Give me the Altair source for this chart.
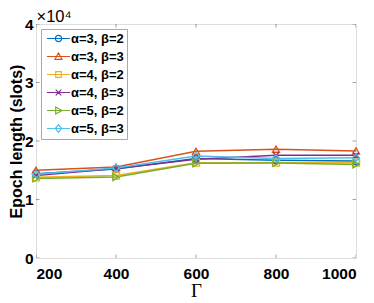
import altair as alt
import pandas as pd

gamma = [200, 400, 600, 800, 1000]
series = ["α=3, β=2", "α=3, β=3", "α=4, β=2", "α=4, β=3", "α=5, β=2", "α=5, β=3"]
values = [
    [14400, 15200, 17000, 16700, 16600],  # a3 b2
    [15000, 15550, 18250, 18600, 18300],  # a3 b3
    [13800, 14100, 16300, 16300, 16300],  # a4 b2
    [14100, 15300, 16900, 17550, 17550],  # a4 b3
    [13600, 13850, 16200, 16250, 16000],  # a5 b2
    [14300, 15400, 17450, 17000, 17150],  # a5 b3
]
colors = ["#0072BD", "#D95319", "#EDB120", "#7E2F8E", "#77AC30", "#4DBEEE"]
shapes = ["circle", "triangle-up", "square", "M-0.8,-0.8L0.8,0.8M-0.8,0.8L0.8,-0.8",
          "triangle-right", "diamond"]
# legend glyphs: a line segment with the marker on it
seg = "M-3.3,0L3.3,0"
legend_shapes = [
    seg + "M0.9,0A0.9,0.9 0 1 1 -0.9,0A0.9,0.9 0 1 1 0.9,0",
    seg + "M-1,0.8L0,-1L1,0.8Z",
    seg + "M-0.8,-0.8L0.8,-0.8L0.8,0.8L-0.8,0.8Z",
    seg + "M-0.8,-0.8L0.8,0.8M-0.8,0.8L0.8,-0.8",
    seg + "M-0.8,-1L1,0L-0.8,1Z",
    seg + "M0,-1.1L0.9,0L0,1.1L-0.9,0Z",
]
x_ticks = [200, 400, 600, 800, 1000]
y_ticks = [0, 10000, 20000, 30000, 40000]
exponent_label = "×10⁴"

rows = []
for s, vals in zip(series, values):
    for g, v in zip(gamma, vals):
        rows.append({"gamma": g, "series": s, "value": v})
df = pd.DataFrame(rows)

xs = alt.Scale(domain=[200, 1000], nice=False)
ys = alt.Scale(domain=[0, 40000], nice=False)
leg = alt.Legend(title=None, orient="none", legendX=5, legendY=5,
                 fillColor="white", strokeColor="#a8a8a8", padding=3,
                 labelFont="Liberation Sans", labelFontWeight="bold",
                 labelFontSize=13, labelColor="black", rowPadding=4,
                 symbolSize=49, symbolStrokeWidth=1.2, symbolFillColor="transparent",
                 symbolOffset=8, labelOffset=6, labelLimit=200)
col = alt.Color("series:N", scale=alt.Scale(domain=series, range=colors), legend=leg)

xax = alt.Axis(values=x_ticks, format="d", title="Γ", titleFont="Liberation Serif",
               titleFontSize=19, titleFontWeight="normal", titlePadding=0,
               labelFont="Liberation Sans", labelFontWeight="bold", labelFontSize=15.5,
               labelColor="black", ticks=False, domain=False, grid=False, labelPadding=8,
               titleColor="black")
xax_top = alt.Axis(orient="top", labels=False, ticks=False, domain=False, grid=False,
                   title=exponent_label, titleX=0, titleY=-3, titleAlign="left",
                   titleBaseline="alphabetic", titleAngle=0, titleFont="Liberation Sans",
                   titleFontSize=16.5, titleFontWeight="normal", titleColor="black")
yax = alt.Axis(values=y_ticks, title="Epoch length (slots)", titleFont="Liberation Sans",
               titleFontSize=16, titleFontWeight="bold", labelFont="Liberation Sans",
               labelFontWeight="bold", labelFontSize=15.5, labelColor="black", ticks=False,
               domain=False, grid=False, labelPadding=3, titlePadding=0,
               labelExpr="datum.value / 10000", titleColor="black")

lines = alt.Chart(df).mark_line(strokeWidth=1.5).encode(
    x=alt.X("gamma:Q", scale=xs, axis=xax),
    y=alt.Y("value:Q", scale=ys, axis=yax),
    color=col, detail="series:N")

point_layers = []
for s, shp in zip(series, shapes):
    point_layers.append(
        alt.Chart(df).transform_filter(alt.datum.series == s)
        .mark_point(filled=False, size=50, strokeWidth=1.3, opacity=1, shape=shp)
        .encode(x=alt.X("gamma:Q", scale=xs, axis=None),
                y=alt.Y("value:Q", scale=ys), color=col))

legend_layer = alt.Chart(df).transform_filter("false").mark_point(
    filled=False, size=49, strokeWidth=1.2, opacity=1).encode(
    x=alt.X("gamma:Q", scale=xs, axis=None), y=alt.Y("value:Q", scale=ys), color=col,
    shape=alt.Shape("series:N", scale=alt.Scale(domain=series, range=legend_shapes),
                    legend=leg))

xt = pd.DataFrame({"t": x_ticks})
yt = pd.DataFrame({"t": y_ticks})
tick_style = dict(color="#555555", thickness=0.8, size=7, clip=True)
xt_bot = alt.Chart(xt).mark_tick(orient="vertical", **tick_style).encode(
    x=alt.X("t:Q", scale=xs, axis=None), y=alt.YDatum(0, scale=ys))
xt_top = alt.Chart(xt).mark_tick(orient="vertical", **tick_style).encode(
    x=alt.X("t:Q", scale=xs, axis=xax_top), y=alt.YDatum(40000, scale=ys))
yt_l = alt.Chart(yt).mark_tick(orient="horizontal", **tick_style).encode(
    y=alt.Y("t:Q", scale=ys), x=alt.XDatum(200, scale=xs, axis=None))
yt_r = alt.Chart(yt).mark_tick(orient="horizontal", **tick_style).encode(
    y=alt.Y("t:Q", scale=ys), x=alt.XDatum(1000, scale=xs, axis=None))

chart = alt.layer(lines, xt_bot, xt_top, yt_l, yt_r, *point_layers, legend_layer).properties(
    width=320, height=234,
    padding={"left": 0, "top": 0, "right": 0, "bottom": 0},
).resolve_axis(x="independent").configure_view(
    stroke="#555555", strokeWidth=1).configure(background="white")

chart.save("out.html", embed_options={"renderer": "svg", "actions": False})
